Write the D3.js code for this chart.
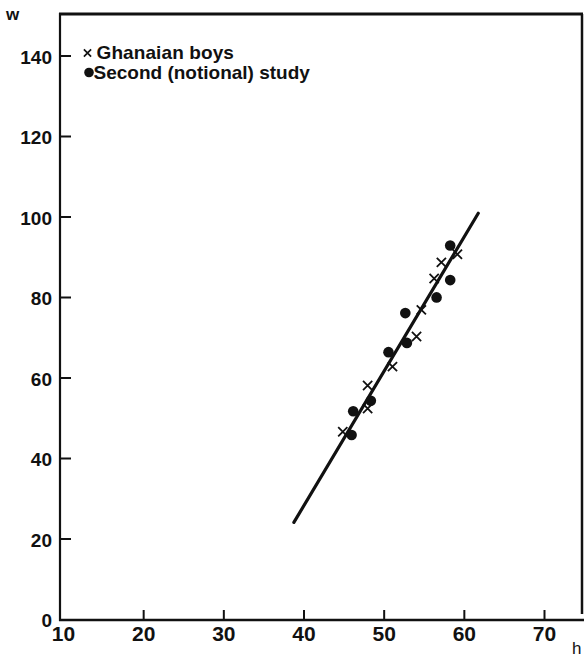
<!DOCTYPE html>
<html>
<head>
<meta charset="utf-8">
<script src="https://cdn.jsdelivr.net/npm/d3@7"></script>
<style>
  html, body { margin: 0; padding: 0; background: #fff; }
  svg { display: block; }
  text { font-family: "Liberation Sans", Arial, Helvetica, sans-serif; fill: #111; }
</style>
</head>
<body>
<svg id="chart" width="584" height="660"></svg>
<script>
// Height h (cm) against weight w for two groups
const ghanaH = [59.2, 57.2, 56.3, 54.7, 54.1, 51.1, 48.0, 48.0, 44.9];
const ghanaW = [90.6, 88.6, 84.6, 76.8, 70.2, 62.7, 58.0, 52.3, 46.5];
const secondH = [58.3, 58.3, 56.6, 52.7, 52.9, 50.6, 48.4, 46.2, 46.0];
const secondW = [92.8, 84.2, 79.9, 76.0, 68.6, 66.3, 54.2, 51.6, 45.7];
// fitted line end points
const fitH = [38.8, 61.8];
const fitW = [24.0, 100.8];
const xTicks = [10, 20, 30, 40, 50, 60, 70];
const yTicks = [0, 20, 40, 60, 80, 100, 120, 140];
const legendLabels = ["Ghanaian boys", "Second (notional) study"];

const svg = d3.select("#chart");
const x = d3.scaleLinear().domain([10, 70]).range([63, 544]);
const y = d3.scaleLinear().domain([0, 140]).range([619, 55.5]);

const axisX = 60, axisY = 620, frameTop = 14, frameRight = 582;

// frame
svg.append("line").attr("x1", axisX).attr("x2", axisX).attr("y1", frameTop - 1).attr("y2", axisY + 1)
  .attr("stroke", "#111").attr("stroke-width", 2.2);
svg.append("line").attr("x1", axisX - 1).attr("x2", 584).attr("y1", axisY).attr("y2", axisY)
  .attr("stroke", "#111").attr("stroke-width", 2.4);
svg.append("line").attr("x1", axisX - 1).attr("x2", frameRight + 1).attr("y1", frameTop).attr("y2", frameTop)
  .attr("stroke", "#111").attr("stroke-width", 3);
svg.append("line").attr("x1", frameRight).attr("x2", frameRight).attr("y1", frameTop).attr("y2", 614)
  .attr("stroke", "#111").attr("stroke-width", 2.5);

// y axis (ticks point inward)
const gy = svg.append("g").attr("transform", `translate(${axisX},0)`)
  .call(d3.axisLeft(y).tickValues(yTicks).tickSize(-11).tickSizeOuter(0).tickPadding(8));
gy.select(".domain").remove();
gy.selectAll(".tick line").attr("stroke", "#111").attr("stroke-width", 2)
  .attr("display", d => d === 0 ? "none" : null);
gy.selectAll(".tick text").attr("font-size", 19).attr("font-weight", "bold")
  .attr("font-family", "Liberation Sans, Arial, sans-serif").attr("fill", "#111").attr("dy", "0.4em");

// x axis (ticks point inward)
const gx = svg.append("g").attr("transform", `translate(0,${axisY})`)
  .call(d3.axisBottom(x).tickValues(xTicks).tickSize(-10).tickSizeOuter(0).tickPadding(6));
gx.select(".domain").remove();
gx.selectAll(".tick line").attr("stroke", "#111").attr("stroke-width", 2)
  .attr("display", d => d === 10 ? "none" : null);
gx.selectAll(".tick text").attr("font-size", 21).attr("font-weight", "bold")
  .attr("font-family", "Liberation Sans, Arial, sans-serif").attr("fill", "#111");

// axis names
svg.append("text").attr("x", 6).attr("y", 19.5).attr("font-size", 17).attr("font-weight", "bold").text("w");
svg.append("text").attr("x", 572).attr("y", 654).attr("font-size", 17).text("h");

// fitted line
const line = d3.line().x(d => x(d[0])).y(d => y(d[1]));
svg.append("path").datum(d3.zip(fitH, fitW)).attr("d", line)
  .attr("fill", "none").attr("stroke", "#111").attr("stroke-width", 3.2).attr("stroke-linecap", "round");

// second study: filled dots
svg.append("g").selectAll("circle").data(d3.zip(secondH, secondW)).join("circle")
  .attr("cx", d => x(d[0])).attr("cy", d => y(d[1])).attr("r", 5.3).attr("fill", "#111");

// Ghanaian boys: crosses
const cross = (cx, cy, s) => `M${cx - s},${cy - s}L${cx + s},${cy + s}M${cx - s},${cy + s}L${cx + s},${cy - s}`;
svg.append("g").selectAll("path").data(d3.zip(ghanaH, ghanaW)).join("path")
  .attr("d", d => cross(x(d[0]), y(d[1]), 4.6))
  .attr("stroke", "#111").attr("stroke-width", 1.8).attr("fill", "none");

// legend
const lg = svg.append("g");
lg.append("path").attr("d", cross(87.5, 53, 3.6)).attr("stroke", "#111").attr("stroke-width", 1.7);
lg.append("circle").attr("cx", 89).attr("cy", 72.5).attr("r", 4.8).attr("fill", "#111");
lg.append("text").attr("x", 96.5).attr("y", 59).attr("font-size", 19).attr("font-weight", "bold")
  .attr("letter-spacing", "0.1").text(legendLabels[0]);
lg.append("text").attr("x", 93.5).attr("y", 78.5).attr("font-size", 19).attr("font-weight", "bold")
  .attr("letter-spacing", "0").text(legendLabels[1]);
</script>
</body>
</html>
